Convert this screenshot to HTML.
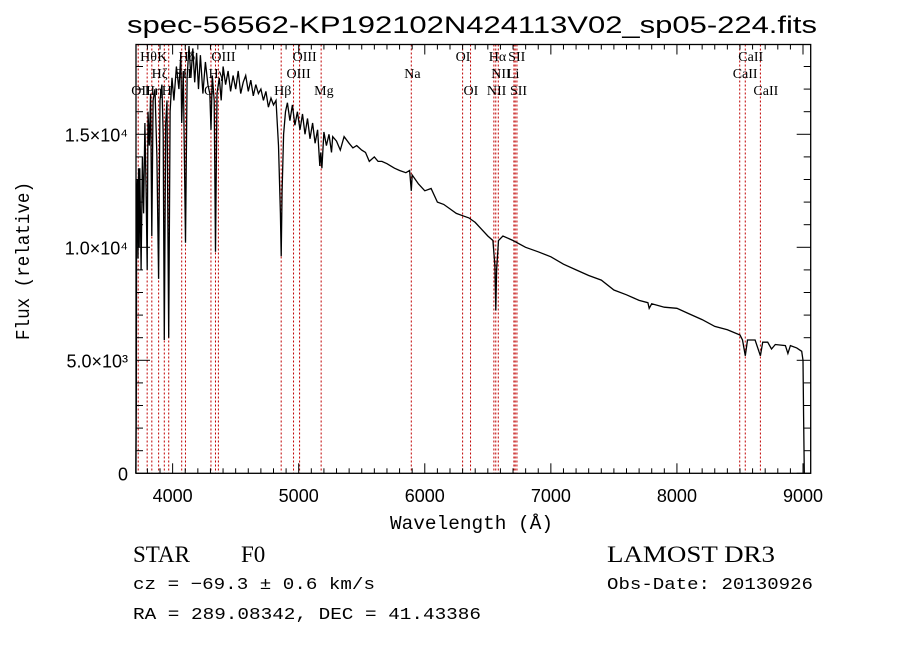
<!DOCTYPE html>
<html><head><meta charset="utf-8">
<style>
html,body{margin:0;padding:0;background:#fff;}
svg{display:block;}
text{fill:#000;}
</style></head>
<body>
<svg id="chart" width="900" height="649" viewBox="0 0 900 649" xmlns="http://www.w3.org/2000/svg">
  <rect x="0" y="0" width="900" height="649" fill="#fff"/>
  <text x="127" y="33" font-family="Liberation Sans, sans-serif" font-size="24" textLength="690" lengthAdjust="spacingAndGlyphs">spec-56562-KP192102N424113V02_sp05-224.fits</text>
  <g id="lines"></g>
  <g id="labels" font-family="Liberation Serif, serif" font-size="14"></g>
  <g id="spec"></g>
  <g id="axes"></g>
  <text x="390" y="529" font-family="Liberation Mono, monospace" font-size="19" textLength="163" lengthAdjust="spacingAndGlyphs">Wavelength (Å)</text>
  <text transform="translate(29,340) rotate(-90)" font-family="Liberation Mono, monospace" font-size="19" textLength="158" lengthAdjust="spacingAndGlyphs">Flux (relative)</text>
  <text x="133" y="562" font-family="Liberation Serif, serif" font-size="23">STAR</text>
  <text x="241" y="562" font-family="Liberation Serif, serif" font-size="23">F0</text>
  <text x="607" y="562" font-family="Liberation Serif, serif" font-size="23" textLength="168" lengthAdjust="spacingAndGlyphs">LAMOST DR3</text>
  <text x="133" y="589" font-family="Liberation Mono, monospace" font-size="17" textLength="242" lengthAdjust="spacingAndGlyphs">cz = −69.3 ± 0.6 km/s</text>
  <text x="607" y="589" font-family="Liberation Mono, monospace" font-size="17" textLength="206" lengthAdjust="spacingAndGlyphs">Obs-Date: 20130926</text>
  <text x="133" y="619" font-family="Liberation Mono, monospace" font-size="17" textLength="348" lengthAdjust="spacingAndGlyphs">RA = 289.08342, DEC =  41.43386</text>
</svg>
<script>
const wavelengths = [3708,3712,3714,3720,3725,3730,3735,3740,3750,3760,3770,3780,3790,3798,3805,3815,3825,3835,3845,3860,3875,3889,3900,3915,3925,3934,3945,3955,3969,3980,3995,4010,4030,4050,4065,4072,4085,4102,4115,4130,4145,4160,4175,4190,4205,4220,4240,4260,4280,4295,4304,4315,4330,4340,4352,4370,4385,4400,4420,4440,4460,4480,4500,4520,4540,4560,4580,4600,4620,4640,4660,4680,4700,4720,4740,4760,4780,4800,4820,4840,4855,4861,4868,4880,4895,4910,4930,4950,4970,4990,5010,5030,5050,5070,5090,5110,5130,5150,5167,5175,5184,5200,5220,5240,5260,5270,5300,5330,5360,5400,5430,5460,5500,5530,5560,5600,5630,5660,5700,5730,5760,5800,5850,5880,5893,5900,5950,6000,6050,6100,6150,6200,6250,6300,6350,6400,6450,6500,6540,6556,6563,6570,6585,6620,6700,6800,6900,7000,7100,7200,7300,7400,7500,7600,7700,7770,7780,7800,7900,8000,8100,8200,8300,8400,8500,8520,8542,8560,8620,8662,8680,8720,8750,8780,8860,8880,8900,8950,8990,9000,9005,9010];
const fluxes = [0,3000,12000,13000,9500,13500,10000,13500,9000,14000,11500,15500,12500,9000,16000,14500,16800,10500,16500,17000,14000,8600,16500,17200,15000,5900,15500,16500,6000,16000,17500,16500,18000,17000,18500,15500,17800,10200,17500,18900,17500,18800,17300,18600,17000,18500,16800,18200,17200,16800,15200,17600,16500,9800,16800,17500,16500,18000,17200,17800,16900,17600,17000,17800,16800,17300,17600,16900,17400,16700,17200,16800,17000,16500,16900,16200,16600,16300,16500,14500,11500,9600,12500,15000,16000,16400,15600,16300,15400,16000,15200,15900,15000,15700,14800,15500,14600,15200,13600,14200,13500,15100,14500,15000,14200,14900,14700,14300,14900,14600,14400,14500,14300,14200,13800,14000,13800,13800,13700,13600,13500,13400,13300,13400,12500,13200,12800,12500,12600,12000,11900,11700,11500,11400,11300,11100,10800,10500,10300,9200,7200,9000,10300,10500,10300,10000,9800,9580,9250,9000,8750,8550,8110,7900,7650,7550,7300,7500,7350,7300,7050,6800,6500,6350,6120,5900,5200,5900,5900,5200,5800,5800,5500,5700,5650,5300,5650,5550,5400,5000,2500,0];
const lineNames = ["OII","Hθ","Hη","Hζ","K","H","SII","Hδ","G","Hγ","OIII","Hβ","OIII","OIII","Mg","Na","OI","OI","NII","Hα","NII","Li","SII","SII","CaII","CaII","CaII"];
const lineWaves = [3727,3798,3835,3889,3934,3969,4072,4102,4304,4340,4363,4861,4959,5007,5178,5893,6300,6363,6548,6563,6583,6707,6717,6731,8498,8542,8662];
const lineRows = [2,0,2,1,0,2,1,0,2,1,0,2,1,0,2,1,0,2,2,0,1,1,0,2,1,0,2];
const xTicks = [4000,5000,6000,7000,8000,9000];
const yTicks = [0,5000,10000,15000];
const yTickLabels = ["0","5.0×10³","1.0×10⁴","1.5×10⁴"];

const NS="http://www.w3.org/2000/svg";
const L=136,R=810.7,T=44.5,B=473.3;
const X0=3709.5,X1=9061,Y0=0,Y1=18973;
function sx(w){return L+(w-X0)/(X1-X0)*(R-L);}
function sy(f){return B-(f-Y0)/(Y1-Y0)*(B-T);}
function mk(tag,attrs,parent){const e=document.createElementNS(NS,tag);for(const k in attrs)e.setAttribute(k,attrs[k]);parent.appendChild(e);return e;}

const gLines=document.getElementById('lines');
const gLab=document.getElementById('labels');
const rowY=[61,78,95];
lineWaves.forEach((w,i)=>{
  const x=sx(w);
  const ln=mk('line',{x1:x,x2:x,y1:T,y2:B,stroke:'#c00000','stroke-width':1,'stroke-dasharray':'2,2'},gLines);
  
  
  const t=mk('text',{x:x-7,y:rowY[lineRows[i]]},gLab);
  t.textContent=lineNames[i];
  
  
});

const gSpec=document.getElementById('spec');
let d='';
wavelengths.forEach((w,i)=>{d+=(i?'L':'M')+sx(w).toFixed(1)+','+sy(fluxes[i]).toFixed(1);});
const p=mk('path',{d:d,fill:'none',stroke:'#000','stroke-width':1.3,'stroke-linejoin':'miter'},gSpec);



const gAx=document.getElementById('axes');
const box=mk('rect',{x:L,y:T,width:R-L,height:B-T,fill:'none',stroke:'#000','stroke-width':1.3},gAx);


for(let w=3800;w<=9000;w+=100){
  const x=sx(w);const major=(w%1000===0);const len=major?10:5;
  mk('line',{x1:x,x2:x,y1:B,y2:B-len,stroke:'#000','stroke-width':1},gAx);
  mk('line',{x1:x,x2:x,y1:T,y2:T+len,stroke:'#000','stroke-width':1},gAx);
}
xTicks.forEach(w=>{
  const t=mk('text',{x:sx(w),y:502,'text-anchor':'middle','font-family':'Liberation Sans, sans-serif','font-size':18},gAx);
  t.textContent=w;
  
  
});
for(let f=0;f<=18000;f+=1000){
  const y=sy(f);const major=(f%5000===0);const len=major?14:7;
  mk('line',{x1:L,x2:L+len,y1:y,y2:y,stroke:'#000','stroke-width':1},gAx);
  mk('line',{x1:R,x2:R-len,y1:y,y2:y,stroke:'#000','stroke-width':1},gAx);
}
yTicks.forEach((f,i)=>{
  const t=mk('text',{x:128,y:sy(f)+7,'text-anchor':'end','font-family':'Liberation Sans, sans-serif','font-size':18},gAx);
  t.textContent=yTickLabels[i];
  
  
});
</script>
</body></html>
